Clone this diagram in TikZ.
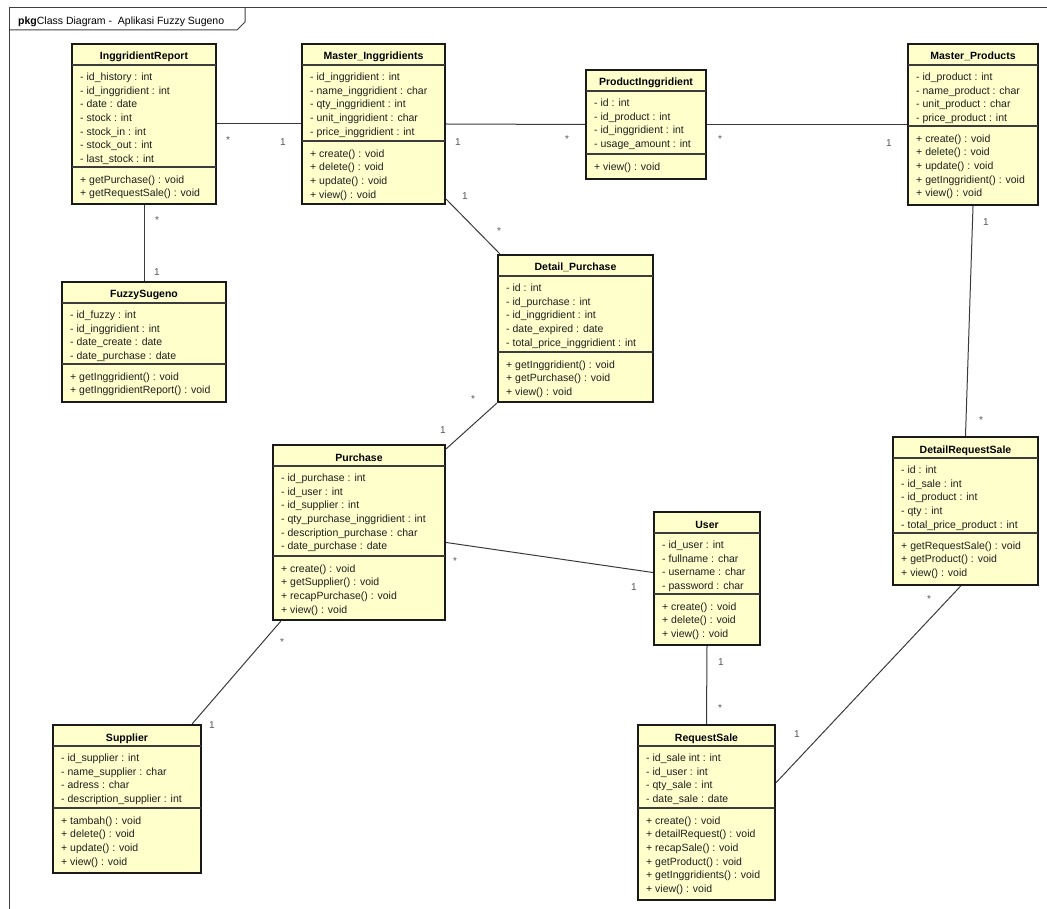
\documentclass[tikz,border=0pt]{standalone}
\usepackage{fontspec}
\setmainfont{Liberation Sans}
\usetikzlibrary{fit,calc}
\definecolor{classfill}{HTML}{FFFFCC}
\definecolor{classedge}{HTML}{1A1A1A}
\definecolor{linkline}{HTML}{3A3A3A}
\definecolor{multcol}{HTML}{555555}

\tikzset{
  classbox/.style={draw=classedge, line width=2.4pt, fill=classfill, inner sep=0pt},
  sepline/.style={draw=classedge!85, line width=1.1pt},
  titletext/.style={anchor=base, inner sep=0pt, font=\fontsize{10.5}{13.6}\selectfont\bfseries, text=black},
  membertext/.style={anchor=north west, inner sep=0pt, align=left, font=\fontsize{10.5}{13.6}\selectfont, text=black!88},
  assoc/.style={draw=linkline, line width=1pt},
  mult/.style={inner sep=0pt, font=\fontsize{10}{12}\selectfont, text=multcol},
  framestyle/.style={draw=black!75, line width=1pt}
}

% #1 name, #2 left, #3 top, #4 right, #5 bottom, #6 y of the methods divider,
% #7 class name, #8 attributes, #9 operations
\newcommand{\umlclass}[9]{%
  \node[classbox, fit={(#2,#3) (#4,#5)}] (#1) {};
  \draw[sepline] (#2,#3+21) -- (#4,#3+21);
  \draw[sepline] (#2,#6) -- (#4,#6);
  \node[titletext] (#1-t) at ({(#2+#4)/2},#3+16) {#7};
  \node[membertext] (#1-a) at (#2+8,#3+27) {\strut #8};
  \node[membertext] (#1-m) at (#2+8,#6+6.5) {\strut #9};
}

\begin{document}
\begin{tikzpicture}[x=1pt,y=-1pt]
\useasboundingbox (0,0) rectangle (1047,909);

% package frame and its tab
\draw[framestyle] (9,915) -- (9,8) -- (1050,8);
\draw[framestyle] (9,30) -- (237,30) -- (245,22) -- (245,8);
\node[anchor=base west, inner sep=0pt, font=\fontsize{10.5}{13}\selectfont] (pkg) at (18,25)
  {\textbf{pkg}Class Diagram -\ \ Aplikasi Fuzzy Sugeno};

% classes
\umlclass{IR}{72}{44}{216}{204}{167}{InggridientReport}
  {- id\_history : int\\- id\_inggridient : int\\- date : date\\- stock : int\\- stock\_in : int\\- stock\_out : int\\- last\_stock : int}
  {+ getPurchase() : void\\+ getRequestSale() : void}

\umlclass{MI}{302}{44}{445}{204}{141}{Master\_Inggridients}
  {- id\_inggridient : int\\- name\_inggridient : char\\- qty\_inggridient : int\\- unit\_inggridient : char\\- price\_inggridient : int}
  {+ create() : void\\+ delete() : void\\+ update() : void\\+ view() : void}

\umlclass{PI}{586}{70}{706}{179}{154}{ProductInggridient}
  {- id : int\\- id\_product : int\\- id\_inggridient : int\\- usage\_amount : int}
  {+ view() : void}

\umlclass{MP}{908}{44}{1038}{205}{126}{Master\_Products}
  {- id\_product : int\\- name\_product : char\\- unit\_product : char\\- price\_product : int}
  {+ create() : void\\+ delete() : void\\+ update() : void\\+ getInggridient() : void\\+ view() : void}

\umlclass{FS}{62}{282}{226}{402}{364}{FuzzySugeno}
  {- id\_fuzzy : int\\- id\_inggridient : int\\- date\_create : date\\- date\_purchase : date}
  {+ getInggridient() : void\\+ getInggridientReport() : void}

\umlclass{DP}{498}{255}{653}{402}{352}{Detail\_Purchase}
  {- id : int\\- id\_purchase : int\\- id\_inggridient : int\\- date\_expired : date\\- total\_price\_inggridient : int}
  {+ getInggridient() : void\\+ getPurchase() : void\\+ view() : void}

\umlclass{PU}{273}{445}{445}{620}{556}{Purchase}
  {- id\_purchase : int\\- id\_user : int\\- id\_supplier : int\\- qty\_purchase\_inggridient : int\\- description\_purchase : char\\- date\_purchase : date}
  {+ create() : void\\+ getSupplier() : void\\+ recapPurchase() : void\\+ view() : void}

\umlclass{US}{654}{512}{760}{645}{594}{User}
  {- id\_user : int\\- fullname : char\\- username : char\\- password : char}
  {+ create() : void\\+ delete() : void\\+ view() : void}

\umlclass{DRS}{893}{437}{1038}{585}{533}{DetailRequestSale}
  {- id : int\\- id\_sale : int\\- id\_product : int\\- qty : int\\- total\_price\_product : int}
  {+ getRequestSale() : void\\+ getProduct() : void\\+ view() : void}

\umlclass{SU}{53}{725}{201}{873}{808}{Supplier}
  {- id\_supplier : int\\- name\_supplier : char\\- adress : char\\- description\_supplier : int}
  {+ tambah() : void\\+ delete() : void\\+ update() : void\\+ view() : void}

\umlclass{RS}{638}{725}{775}{900}{808}{RequestSale}
  {- id\_sale int : int\\- id\_user : int\\- qty\_sale : int\\- date\_sale : date}
  {+ create() : void\\+ detailRequest() : void\\+ recapSale() : void\\+ getProduct() : void\\+ getInggridients() : void\\+ view() : void}

% associations
\draw[assoc] (IR.east) -- (MI.west);
\draw[assoc] (MI.east) -- (PI.west);
\draw[assoc] (PI.east) -- (MP.west);
\draw[assoc] (IR.south) -- (FS.north);
\draw[assoc] ($(MI.south east)+(0,-6)$) -- ($(DP.north west)+(3,0)$);
\draw[assoc] (DP.south west) -- ($(PU.north east)+(0,5)$);
\draw[assoc] ($(PU.east)+(0,10)$) -- ($(US.west)+(0,-6)$);
\draw[assoc] ($(PU.south west)+(9,0)$) -- ($(SU.north east)+(-10,0)$);
\draw[assoc] (US.south) -- (RS.north);
\draw[assoc] (MP.south) -- (DRS.north);
\draw[assoc] ($(DRS.south)+(-5,0)$) -- ($(RS.east)+(0,-30)$);

% multiplicities
\node[mult] (m1) at (228,140) {*};
\node[mult] (m2) at (283,142) {1};
\node[mult] (m3) at (458,142) {1};
\node[mult] (m4) at (567,139) {*};
\node[mult] (m5) at (720,139) {*};
\node[mult] (m6) at (889,143) {1};
\node[mult] (m7) at (157,220) {*};
\node[mult] (m8) at (157,272) {1};
\node[mult] (m9) at (465,196) {1};
\node[mult] (m10) at (499,231) {*};
\node[mult] (m11) at (473,399) {*};
\node[mult] (m12) at (443,430) {1};
\node[mult] (m13) at (455,561) {*};
\node[mult] (m14) at (634,587) {1};
\node[mult] (m15) at (282,642) {*};
\node[mult] (m16) at (212,725) {1};
\node[mult] (m17) at (721,662) {1};
\node[mult] (m18) at (720,708) {*};
\node[mult] (m19) at (986,222) {1};
\node[mult] (m20) at (981,420) {*};
\node[mult] (m21) at (929,599) {*};
\node[mult] (m22) at (797,734) {1};
\end{tikzpicture}
\end{document}
